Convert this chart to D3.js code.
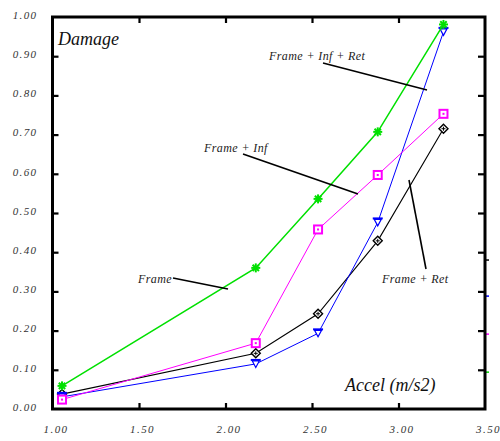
<!DOCTYPE html>
<html><head><meta charset="utf-8">
<script src="https://cdn.jsdelivr.net/npm/d3@7"></script>
<style>body{margin:0;background:#fff}svg{display:block}
svg text{font-family:"Liberation Serif","Times New Roman",serif;font-style:italic}</style>
</head><body>
<svg id="c" width="500" height="441"></svg>
<script>
const accel = [1.055, 2.175, 2.535, 2.88, 3.26];
const frame = [0.059, 0.360, 0.536, 0.707, 0.981];
const frameInfRet = [0.031, 0.115, 0.193, 0.476, 0.962];
const frameInf = [0.024, 0.168, 0.458, 0.597, 0.753];
const frameRet = [0.038, 0.142, 0.243, 0.429, 0.715];
const xTicks = [1.0, 1.5, 2.0, 2.5, 3.0, 3.5];
const yTicks = [0.0, 0.1, 0.2, 0.3, 0.4, 0.5, 0.6, 0.7, 0.8, 0.9, 1.0];

const svg = d3.select("#c");
const x = d3.scaleLinear().domain([1, 3.5]).range([52.5, 485]);
const y = d3.scaleLinear().domain([0, 1]).range([409, 17]);

// right-side stray colour stubs
const stubs = [["#000", 0.38], ["#0000ff", 0.288], ["#ff00ff", 0.191], ["#00dd00", 0.094]];
stubs.forEach(([c, v]) => svg.append("line").attr("x1", 485).attr("x2", 489)
  .attr("y1", y(v)).attr("y2", y(v)).attr("stroke", c).attr("stroke-width", 1.5));

function styleAxis(g) {
  g.select(".domain").remove();
  g.attr("font-family", null).attr("font-size", null);
  g.selectAll(".tick line").attr("stroke", "#000").attr("stroke-width", 2.2);
  g.selectAll("text").style("font-size", "11px").attr("fill", "#333").style("letter-spacing", "1.4px");
}
const gx = svg.append("g").attr("transform", `translate(0,${y(0)})`)
  .call(d3.axisBottom(x).tickValues(xTicks).tickSize(-6).tickPadding(16).tickFormat(d3.format(".2f")));
styleAxis(gx);
gx.selectAll("text").attr("dx", 3);
gx.selectAll(".tick").filter(d => d === 1 || d === 3.5).select("line").remove();

const gxt = svg.append("g").attr("transform", `translate(0,${y(1)})`)
  .call(d3.axisTop(x).tickValues(xTicks.filter(d => d > 1 && d < 3.5)).tickSize(-6).tickFormat(""));
styleAxis(gxt);

const gy = svg.append("g").attr("transform", `translate(${x(1)},0)`)
  .call(d3.axisLeft(y).tickValues(yTicks).tickSize(-6).tickPadding(15).tickFormat(d3.format(".2f")));
styleAxis(gy);
gy.selectAll("text").attr("dy", "0.12em");
gy.selectAll(".tick").filter(d => d === 0 || d === 1).select("line").remove();

const gyr = svg.append("g").attr("transform", `translate(${x(3.5)},0)`)
  .call(d3.axisRight(y).tickValues(yTicks.filter(d => d > 0 && d < 1)).tickSize(-7).tickFormat(""));
styleAxis(gyr);

svg.append("rect").attr("x", x(1)).attr("y", y(1)).attr("width", x(3.5) - x(1)).attr("height", y(0) - y(1))
  .attr("fill", "none").attr("stroke", "#000").attr("stroke-width", 3);

const line = d3.line().x(d => x(d[0])).y(d => y(d[1]));
const series = [
  {vals: frameRet, color: "#000", w: 1.1, m: "diamond"},
  {vals: frameInfRet, color: "#0000ff", w: 1, m: "tri"},
  {vals: frameInf, color: "#ff00ff", w: 1, m: "square"},
  {vals: frame, color: "#00e000", w: 1.5, m: "star"},
];
series.forEach(s => {
  const pts = accel.map((a, i) => [a, s.vals[i]]);
  svg.append("path").attr("d", line(pts)).attr("fill", "none").attr("stroke", s.color).attr("stroke-width", s.w);
  pts.forEach(p => {
    const g = svg.append("g").attr("transform", `translate(${x(p[0])},${y(p[1])})`);
    if (s.m === "star") {
      const r = 4.5;
      [0, 45, 90, 135].forEach(a => {
        const rad = a * Math.PI / 180;
        g.append("line").attr("x1", -r * Math.cos(rad)).attr("y1", -r * Math.sin(rad))
          .attr("x2", r * Math.cos(rad)).attr("y2", r * Math.sin(rad))
          .attr("stroke", s.color).attr("stroke-width", 2);
      });
    } else if (s.m === "square") {
      g.append("rect").attr("x", -4).attr("y", -4).attr("width", 8).attr("height", 8)
        .attr("fill", "#fff").attr("stroke", s.color).attr("stroke-width", 2);
      g.append("rect").attr("x", -1).attr("y", -1).attr("width", 2).attr("height", 2).attr("fill", s.color);
    } else if (s.m === "tri") {
      g.append("path").attr("d", "M-3.5,-3 L3.5,-3 L0,3.5 Z").attr("fill", "#fff").attr("stroke", s.color).attr("stroke-width", 1.2);
      g.append("line").attr("x1", -5).attr("x2", 5).attr("y1", -4).attr("y2", -4).attr("stroke", s.color).attr("stroke-width", 2);
    } else {
      g.append("path").attr("d", "M0,-4.5 L4.5,0 L0,4.5 L-4.5,0 Z").attr("fill", "#fff").attr("stroke", s.color).attr("stroke-width", 1.4);
      g.append("path").attr("d", "M-2,0 L2,0 M0,-2 L0,2").attr("stroke", s.color).attr("stroke-width", 1);
    }
  });
});

const labels = [
  {t: "Frame + Inf + Ret", x: 269, y: 60, lx1: 323, ly1: 63, lx2: 427, ly2: 90},
  {t: "Frame + Inf", x: 204, y: 152, lx1: 243, ly1: 154, lx2: 358, ly2: 194},
  {t: "Frame", x: 138, y: 283, lx1: 173, ly1: 278, lx2: 228, ly2: 289},
  {t: "Frame + Ret", x: 382, y: 283, lx1: 409, ly1: 180, lx2: 426, ly2: 269},
];
labels.forEach(l => {
  svg.append("line").attr("x1", l.lx1).attr("y1", l.ly1).attr("x2", l.lx2).attr("y2", l.ly2)
    .attr("stroke", "#000").attr("stroke-width", 1.6);
  svg.append("text").attr("x", l.x).attr("y", l.y).text(l.t)
    .style("font-size", "12px").attr("fill", "#222").style("letter-spacing", "0.4px");
});
svg.append("text").attr("x", 58).attr("y", 45).text("Damage")
  .style("font-size", "18px").attr("fill", "#111");
svg.append("text").attr("x", 345).attr("y", 391).text("Accel (m/s2)")
  .style("font-size", "18px").attr("fill", "#111");
</script>
</body></html>
